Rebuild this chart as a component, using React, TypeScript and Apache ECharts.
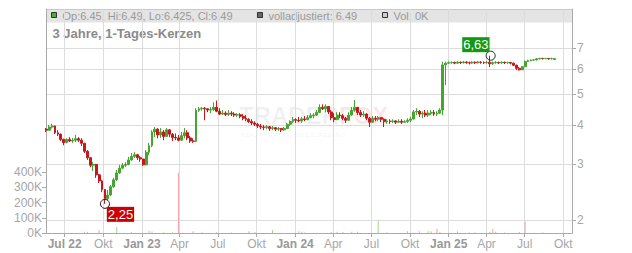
import React, { useEffect, useRef } from 'react';
import * as echarts from 'echarts';

// Weekly candles, first week centred on Wed 18 May 2022, one row per week: [open, close, low, high]
const firstWeek = [2022, 4, 18];
const candles: [number, number, number, number][] = [
  [3.88, 3.85, 3.80, 3.91], [3.85, 3.94, 3.84, 4.00], [3.94, 3.97, 3.90, 4.04], [3.97, 3.78, 3.74, 3.98],
  [3.78, 3.74, 3.69, 3.85], [3.74, 3.60, 3.56, 3.76], [3.60, 3.52, 3.45, 3.62], [3.52, 3.60, 3.50, 3.63],
  [3.60, 3.56, 3.53, 3.66], [3.56, 3.58, 3.51, 3.64], [3.58, 3.62, 3.53, 3.72], [3.62, 3.58, 3.53, 3.66],
  [3.58, 3.50, 3.43, 3.63], [3.50, 3.30, 3.26, 3.51], [3.30, 3.15, 3.10, 3.33], [3.15, 2.98, 2.94, 3.16],
  [2.98, 3.00, 2.86, 3.05], [3.00, 2.78, 2.72, 3.01], [2.78, 2.66, 2.62, 2.80], [2.66, 2.50, 2.45, 2.68],
  [2.50, 2.34, 2.25, 2.50], [2.34, 2.40, 2.30, 2.49], [2.40, 2.55, 2.38, 2.58], [2.55, 2.68, 2.53, 2.72],
  [2.68, 2.82, 2.66, 2.88], [2.82, 2.92, 2.80, 2.99], [2.92, 2.98, 2.90, 3.03], [2.98, 3.00, 2.94, 3.05],
  [3.00, 3.10, 2.98, 3.17], [3.10, 3.18, 3.08, 3.26], [3.18, 3.22, 3.14, 3.28], [3.22, 3.15, 3.10, 3.24],
  [3.15, 3.12, 3.06, 3.19], [3.12, 2.99, 2.97, 3.12], [2.99, 3.28, 2.98, 3.33], [3.28, 3.44, 3.21, 3.51],
  [3.44, 3.80, 3.40, 3.85], [3.80, 3.88, 3.66, 3.94], [3.88, 3.72, 3.63, 3.91], [3.72, 3.80, 3.64, 3.91],
  [3.80, 3.68, 3.58, 3.85], [3.68, 3.86, 3.66, 3.91], [3.86, 3.74, 3.66, 3.88], [3.74, 3.65, 3.56, 3.77],
  [3.65, 3.64, 3.58, 3.76], [3.64, 3.58, 3.55, 3.72], [3.58, 3.70, 3.56, 3.80], [3.70, 3.78, 3.63, 3.91],
  [3.78, 3.64, 3.58, 3.85], [3.64, 3.56, 3.51, 3.69], [3.56, 3.55, 3.51, 3.63], [3.55, 4.45, 3.53, 4.52],
  [4.45, 4.50, 4.40, 4.56], [4.50, 4.52, 4.44, 4.56], [4.52, 4.50, 4.14, 4.56], [4.50, 4.46, 4.39, 4.52],
  [4.46, 4.47, 4.36, 4.56], [4.47, 4.55, 4.44, 4.72], [4.55, 4.42, 4.39, 4.78], [4.42, 4.33, 4.30, 4.52],
  [4.33, 4.36, 4.30, 4.46], [4.36, 4.32, 4.27, 4.42], [4.32, 4.36, 4.27, 4.46], [4.36, 4.33, 4.27, 4.42],
  [4.33, 4.30, 4.24, 4.39], [4.30, 4.31, 4.24, 4.36], [4.31, 4.26, 4.20, 4.36], [4.26, 4.20, 4.14, 4.33],
  [4.20, 4.17, 4.11, 4.30], [4.17, 4.10, 4.06, 4.20], [4.10, 4.06, 4.00, 4.17], [4.06, 4.02, 3.97, 4.11],
  [4.02, 3.97, 3.91, 4.06], [3.97, 3.94, 3.88, 4.03], [3.94, 3.93, 3.85, 4.00], [3.93, 3.95, 3.88, 4.00],
  [3.95, 3.90, 3.83, 3.97], [3.90, 3.92, 3.85, 3.97], [3.92, 3.88, 3.83, 3.94], [3.88, 3.90, 3.83, 3.94],
  [3.90, 3.86, 3.80, 3.91], [3.86, 3.90, 3.83, 3.94], [3.90, 4.02, 3.88, 4.06], [4.02, 4.10, 3.97, 4.14],
  [4.10, 4.16, 4.06, 4.24], [4.16, 4.14, 4.06, 4.20], [4.14, 4.12, 4.08, 4.24], [4.12, 4.18, 4.06, 4.24],
  [4.18, 4.16, 4.11, 4.27], [4.16, 4.22, 4.14, 4.30], [4.22, 4.28, 4.20, 4.36], [4.28, 4.30, 4.20, 4.36],
  [4.30, 4.38, 4.27, 4.46], [4.38, 4.55, 4.36, 4.65], [4.55, 4.50, 4.46, 4.65], [4.50, 4.58, 4.39, 4.65],
  [4.58, 4.40, 4.33, 4.59], [4.40, 4.22, 4.14, 4.46], [4.22, 4.16, 4.08, 4.36], [4.16, 4.30, 4.14, 4.39],
  [4.30, 4.28, 4.20, 4.39], [4.28, 4.20, 4.14, 4.33], [4.20, 4.14, 4.06, 4.24], [4.14, 4.30, 4.12, 4.39],
  [4.30, 4.45, 4.28, 4.56], [4.45, 4.55, 4.40, 4.80], [4.55, 4.38, 4.30, 4.56], [4.38, 4.30, 4.24, 4.46],
  [4.30, 4.33, 4.24, 4.42], [4.33, 4.20, 4.14, 4.36], [4.20, 4.08, 3.94, 4.24], [4.08, 4.20, 4.06, 4.27],
  [4.20, 4.17, 4.11, 4.27], [4.17, 4.22, 4.11, 4.27], [4.22, 4.17, 4.08, 4.24], [4.17, 4.10, 3.94, 4.20],
  [4.10, 4.12, 4.03, 4.17], [4.12, 4.10, 4.03, 4.17], [4.10, 4.12, 4.06, 4.17], [4.12, 4.08, 4.03, 4.14],
  [4.08, 4.11, 4.06, 4.17], [4.11, 4.08, 4.03, 4.17], [4.08, 4.10, 4.06, 4.14], [4.10, 4.14, 4.06, 4.20],
  [4.14, 4.18, 4.08, 4.24], [4.18, 4.40, 4.16, 4.46], [4.40, 4.42, 4.30, 4.52], [4.42, 4.33, 4.24, 4.46],
  [4.33, 4.36, 4.20, 4.42], [4.36, 4.30, 4.24, 4.46], [4.30, 4.36, 4.24, 4.46], [4.36, 4.38, 4.30, 4.46],
  [4.38, 4.33, 4.27, 4.46], [4.33, 4.36, 4.27, 4.42], [4.36, 4.46, 4.33, 4.52], [4.46, 6.20, 4.30, 6.35],
  [6.20, 6.28, 5.35, 6.35], [6.28, 6.30, 6.24, 6.36], [6.30, 6.31, 6.25, 6.36], [6.31, 6.28, 6.23, 6.35],
  [6.28, 6.32, 6.25, 6.37], [6.32, 6.30, 6.24, 6.36], [6.30, 6.33, 6.26, 6.38], [6.33, 6.30, 6.25, 6.36],
  [6.30, 6.29, 6.22, 6.35], [6.29, 6.32, 6.25, 6.37], [6.32, 6.30, 6.24, 6.36], [6.30, 6.33, 6.26, 6.38],
  [6.33, 6.31, 6.25, 6.37], [6.31, 6.30, 6.24, 6.36], [6.30, 6.32, 6.25, 6.38], [6.32, 6.25, 6.10, 6.63],
  [6.25, 6.30, 6.20, 6.36], [6.30, 6.31, 6.25, 6.37], [6.31, 6.29, 6.24, 6.35], [6.29, 6.32, 6.25, 6.36],
  [6.32, 6.30, 6.24, 6.35], [6.30, 6.31, 6.25, 6.34], [6.31, 6.28, 6.22, 6.33], [6.28, 6.18, 6.15, 6.30],
  [6.18, 6.05, 5.97, 6.22], [6.05, 5.98, 5.95, 6.10], [5.98, 6.12, 5.97, 6.15], [6.12, 6.35, 6.10, 6.40],
  [6.35, 6.40, 6.33, 6.44], [6.40, 6.42, 6.36, 6.46], [6.42, 6.43, 6.38, 6.46], [6.43, 6.48, 6.40, 6.52],
  [6.48, 6.50, 6.45, 6.53], [6.50, 6.49, 6.45, 6.53], [6.49, 6.50, 6.46, 6.52], [6.50, 6.48, 6.44, 6.52],
  [6.48, 6.50, 6.45, 6.53], [6.45, 6.49, 6.425, 6.49],
];

// Volume: [week index, volume, direction 1 = up / -1 = down]
const volumeBars: [number, number, number][] = [
  [13, 8000, -1], [14, 8000, -1], [18, 20000, -1], [24, 40000, 1], [29, 6000, 1], [35, 14000, -1],
  [36, 10000, 1], [40, 5000, 1], [43, 5000, 1], [45, 395000, -1], [50, 12000, -1], [53, 5000, -1],
  [58, 5000, -1], [63, 4000, -1], [69, 12000, -1], [71, 6000, -1], [77, 20000, 1], [86, 12000, -1],
  [87, 8000, -1], [88, 4000, -1], [97, 6000, 1], [99, 8000, 1], [101, 6000, -1], [104, 8000, 1],
  [106, 8000, 1], [113, 82000, 1], [116, 4000, -1], [123, 12000, -1], [127, 12000, -1], [130, 12000, 1],
  [131, 12000, 1], [133, 28000, -1], [134, 8000, 1], [140, 12000, 1], [144, 4000, -1], [146, 4000, 1],
  [151, 8000, 1], [152, 28000, -1], [153, 10000, -1], [156, 4000, -1], [161, 6000, -1], [163, 75000, -1],
  [169, 3000, 1],
];

const priceTicks = [2, 3, 4, 5, 6, 7];
const volumeTicks = [0, 100000, 200000, 300000, 400000];
const quarterStarts: [number, number][] = [
  [2022, 6], [2022, 9], [2023, 0], [2023, 3], [2023, 6], [2023, 9], [2024, 0],
  [2024, 3], [2024, 6], [2024, 9], [2025, 0], [2025, 3], [2025, 6], [2025, 9],
];
const monthNames = ['Jan', 'Feb', 'Mär', 'Apr', 'Mai', 'Jun', 'Jul', 'Aug', 'Sep', 'Okt', 'Nov', 'Dez'];
const lowMark = { date: [2022, 9, 5], value: 2.25, label: '2,25' };
const highMark = { date: [2025, 3, 11], value: 6.63, label: '6,63' };
const legendQuote = 'Op:6.45, Hi:6.49, Lo:6.425, Cl:6.49';
const legendAdjusted = 'volladjustiert: 6.49';
const legendVolume = 'Vol: 0K';
const chartTitle = '3 Jahre, 1-Tages-Kerzen';

const FONT = 'Liberation Sans, Arial, sans-serif';
const UP = '#44a630';
const DOWN = '#c8161d';

function weekDate(i: number) {
  return new Date(firstWeek[0], firstWeek[1], firstWeek[2] + 7 * i).getTime();
}

export default function App() {
  const ref = useRef<HTMLDivElement>(null);
  useEffect(() => {
    document.body.style.margin = '0';
    const chart = echarts.init(ref.current!, undefined, { renderer: 'svg' });

    const candleData = candles.map((c, i) => [weekDate(i), c[0], c[1], c[2], c[3]]);
    const volData = volumeBars.map(([i, v, dir]) => ({
      value: [weekDate(i), v],
      itemStyle: { color: dir > 0 ? '#9dd78f' : '#f2a3ab' },
    }));
    const quarterTicks = quarterStarts.map(([y, m]) => new Date(y, m, 1).getTime());

    const option: any = {
      animation: false,
      textStyle: { fontFamily: FONT },
      grid: { left: 46, right: 60, top: 9, bottom: 20, containLabel: false, outerBoundsMode: 'none' },
      xAxis: {
        type: 'value',
        scale: true,
        min: new Date(2022, 4, 17, 12).getTime(),
        max: new Date(2025, 9, 21, 18).getTime(),
        axisLine: { show: true, lineStyle: { color: '#aaa' } },
        axisTick: { show: true, length: 4, customValues: quarterTicks, lineStyle: { color: '#aaa' } },
        axisLabel: {
          customValues: quarterTicks,
          margin: 5,
          hideOverlap: false,
          formatter: (v: number) => {
            const d = new Date(v);
            const m = d.getMonth();
            const yy = String(d.getFullYear()).slice(2);
            if (m === 0 || v === quarterTicks[0]) return `{b|${monthNames[m]} ${yy}}`;
            return `{n|${monthNames[m]}}`;
          },
          rich: {
            b: { fontFamily: FONT, fontSize: 12, fontWeight: 'bold', color: '#999' },
            n: { fontFamily: FONT, fontSize: 12, color: '#a6a6a6' },
          },
        },
        splitLine: { show: true, lineStyle: { color: '#dcdcdc', width: 1 } },
      },
      yAxis: [
        {
          type: 'log',
          logBase: 10,
          position: 'right',
          min: 1.819,
          max: 9.32,
          axisLine: { show: true, lineStyle: { color: '#aaa' } },
          axisTick: { show: true, length: 4, customValues: priceTicks, lineStyle: { color: '#aaa' } },
          axisLabel: {
            customValues: priceTicks,
            margin: 5,
            fontSize: 12,
            color: '#a6a6a6',
            formatter: (v: number) => String(Math.round(v)),
          },
          splitLine: { show: true, lineStyle: { color: '#dcdcdc', width: 1 } },
        },
        {
          type: 'value',
          position: 'left',
          min: 0,
          max: 1470000,
          axisLine: { show: true, lineStyle: { color: '#aaa' } },
          axisTick: { show: true, length: 4, customValues: volumeTicks, lineStyle: { color: '#aaa' } },
          axisLabel: {
            customValues: volumeTicks,
            margin: 4,
            fontSize: 12,
            color: '#a6a6a6',
            formatter: (v: number) => `${Math.round(v / 1000)}K`,
          },
          splitLine: { show: false },
        },
      ],
      graphic: [
        {
          type: 'rect', z: -1, silent: true,
          shape: { x: 46, y: 9, width: 526, height: 13.5 },
          style: { fill: '#e4e4e4' },
        },
        {
          type: 'line', z: -1, silent: true,
          shape: { x1: 46, y1: 9.5, x2: 572, y2: 9.5 },
          style: { stroke: '#c8c8c8', lineWidth: 1 },
        },
        {
          type: 'text', z: -1, silent: true, x: 239, y: 103,
          style: {
            text: '{t|TRADER}{f|FOX}', fontFamily: FONT, verticalAlign: 'top',
            rich: {
              t: { fontSize: 24, lineHeight: 24, fontWeight: 'bold', fill: 'rgba(0,0,0,0.06)', fontFamily: FONT },
              f: { fontSize: 24, lineHeight: 24, fontWeight: 'bold', fill: 'rgba(225,50,70,0.12)', fontFamily: FONT },
            },
          },
        },
        {
          type: 'text', z: -1, silent: true, x: 241, y: 132,
          style: { text: 'REAL-TIME ANALYSIS & SCREENING', fontSize: 6, fill: 'rgba(0,0,0,0.08)', fontFamily: FONT, verticalAlign: 'top' },
        },
        { type: 'rect', shape: { x: 51.5, y: 12.5, width: 5, height: 5 }, style: { fill: '#3fb52a', stroke: '#333', lineWidth: 1 } },
        {
          type: 'text', x: 62.5, y: 15.8,
          style: { text: legendQuote, fontSize: 11, fill: '#9a9a9a', fontFamily: FONT, verticalAlign: 'middle' },
        },
        { type: 'rect', shape: { x: 257.5, y: 12.5, width: 5, height: 5 }, style: { fill: '#666', stroke: '#333', lineWidth: 1 } },
        {
          type: 'text', x: 268.5, y: 15.8,
          style: { text: legendAdjusted, fontSize: 11, fill: '#9a9a9a', fontFamily: FONT, verticalAlign: 'middle' },
        },
        { type: 'rect', shape: { x: 382.5, y: 12.5, width: 5, height: 5 }, style: { fill: '#cfcfcf', stroke: '#333', lineWidth: 1 } },
        {
          type: 'text', x: 393.5, y: 15.8,
          style: { text: legendVolume, fontSize: 11, fill: '#9a9a9a', fontFamily: FONT, verticalAlign: 'middle' },
        },
        {
          type: 'text', x: 52.5, y: 33,
          style: { text: chartTitle, fontSize: 13, fontWeight: 'bold', fill: '#8a8a8a', fontFamily: FONT, verticalAlign: 'middle' },
        },
      ],
      series: [
        {
          type: 'bar',
          xAxisIndex: 0,
          yAxisIndex: 1,
          barWidth: 1,
          data: volData,
          z: 1,
        },
        {
          type: 'candlestick',
          xAxisIndex: 0,
          yAxisIndex: 0,
          barWidth: 2.4,
          encode: { x: 0, y: [1, 2, 3, 4] },
          itemStyle: { color: UP, color0: DOWN, borderColor: UP, borderColor0: DOWN, borderWidth: 1 },
          data: candleData,
          z: 3,
          markPoint: {
            symbol: 'circle',
            symbolSize: 9,
            itemStyle: { color: 'rgba(0,0,0,0)', borderColor: '#222', borderWidth: 1 },
            data: [
              {
                coord: [new Date(lowMark.date[0], lowMark.date[1], lowMark.date[2]).getTime(), lowMark.value],
                label: {
                  show: true, position: 'inside', offset: [15.5, 10.5], formatter: lowMark.label,
                  backgroundColor: '#cc0000', color: '#fff', fontSize: 13, fontFamily: FONT,
                  padding: [1, 1, 0, 1], lineHeight: 14,
                },
              },
              {
                coord: [new Date(highMark.date[0], highMark.date[1], highMark.date[2]).getTime(), highMark.value],
                label: {
                  show: true, position: 'inside', offset: [-14.8, -11], formatter: highMark.label,
                  backgroundColor: '#119a11', color: '#fff', fontSize: 13, fontFamily: FONT,
                  padding: [1, 1, 0, 1], lineHeight: 14,
                },
              },
            ],
          },
        },
      ],
    };

    chart.setOption(option);
    return () => chart.dispose();
  }, []);
  return <div ref={ref} style={{ width: 632, height: 253 }} />;
}
